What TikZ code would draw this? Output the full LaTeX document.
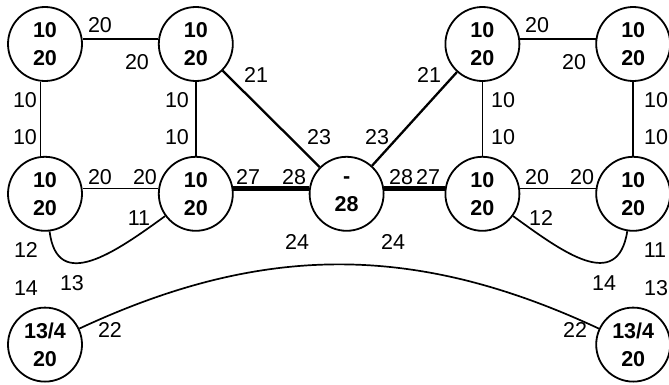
\documentclass[tikz,border=0pt]{standalone}
\usepackage{fontspec}
\setmainfont{Liberation Sans}
\usetikzlibrary{positioning}

\begin{document}
\begin{tikzpicture}[
  x=1pt,
  y=-1pt,
  font=\fontsize{21}{28}\selectfont,
  switch/.style={
    circle,
    draw,
    line width=1.8pt,
    minimum size=74pt,
    inner sep=0pt,
    align=center,
    font=\fontsize{21.5}{28}\selectfont\bfseries
  },
  link/.style={line width=1.7pt},
  uplink/.style={line width=2.3pt},
  trunk/.style={line width=4.5pt},
  port/.style={
    inner sep=0pt,
    font=\fontsize{21.5}{25}\selectfont
  }
]
\useasboundingbox (0,0) rectangle (669,385);

\node[switch] (s1) at (45,44) {10\\20};
\node[switch,right=75pt of s1] (s2) {10\\20};
\node[switch,below=74pt of s1] (s5) {10\\20};
\node[switch,right=75pt of s5] (s6) {10\\20};
\node[switch,right=75pt of s6] (mid) {-\\28};
\node[switch,right=60pt of mid] (s7) {10\\20};
\node[switch,right=75pt of s7] (s8) {10\\20};
\node[switch,above=74pt of s7] (s3) {10\\20};
\node[switch,above=74pt of s8] (s4) {10\\20};
\node[switch,below=75pt of s5] (t1) {13/4\\20};
\node[switch,below=75pt of s8] (t2) {13/4\\20};

\draw[link] (s1.8) -- (s2.172);
\draw[link] (s3.8) -- (s4.172);
\draw[link] (s5.8) -- (s6.172);
\draw[link] (s7.8) -- (s8.172);
\draw[link] (s1.-97) -- (s5.97);
\draw[link] (s2) -- (s6);
\draw[link] (s3) -- (s7);
\draw[link] (s4) -- (s8);
\draw[uplink] (s2) -- (mid);
\draw[uplink] (s3) -- (mid);
\draw[trunk] (s6.8) -- (mid.172);
\draw[trunk] (mid.8) -- (s7.172);
\draw[link] (s5.-83) .. controls +(-83:62pt) and +(-144:62pt) .. (s6.-144);
\draw[link] (s7.-36) .. controls +(-36:62pt) and +(-99:62pt) .. (s8.-99);
\draw[link] (t1) to[bend left=25] (t2);

% port numbers
\foreach \px/\py/\txt [count=\i] in {
  100/25/20, 137/62/20, 256/75/21, 319/137/23,
  25/100/10, 25/137/10, 177/100/10, 177/137/10,
  100/177/20, 145/177/20, 248/177/27, 294/177/28,
  537/25/20, 574/62/20, 429/75/21, 377/137/23,
  503/100/10, 503/137/10, 656/100/10, 656/137/10,
  401/177/28, 428/177/27, 537/177/20, 582/177/20,
  139/218/11, 26/250/12, 26/288/14, 72/283/13,
  297/242/24, 110/330/22, 393/242/24, 541/218/12,
  655/250/11, 604/283/14, 656/288/13, 575/330/22}
  \node[port] (p\i) at (\px,\py) {\txt};

\end{tikzpicture}
\end{document}
